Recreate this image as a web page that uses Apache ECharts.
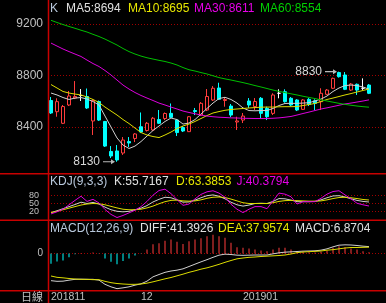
<!DOCTYPE html>
<html><head><meta charset="utf-8">
<script src="https://cdn.jsdelivr.net/npm/echarts@6/dist/echarts.min.js"></script>
<style>html,body{margin:0;padding:0;background:#000;}#c{width:386px;height:303px;}</style>
</head><body><div id="c"></div>
<script>
const categories = [
'2018-11-12','2018-11-13','2018-11-14','2018-11-15','2018-11-16','2018-11-19','2018-11-20','2018-11-21','2018-11-22','2018-11-23','2018-11-26','2018-11-27','2018-11-28','2018-11-29','2018-11-30',
'2018-12-03','2018-12-04','2018-12-05','2018-12-06','2018-12-07','2018-12-10','2018-12-11','2018-12-12','2018-12-13','2018-12-14','2018-12-17','2018-12-18','2018-12-19','2018-12-20','2018-12-21','2018-12-24','2018-12-27',
'2019-01-02','2019-01-03','2019-01-04','2019-01-07','2019-01-08','2019-01-09','2019-01-10','2019-01-11','2019-01-14','2019-01-15','2019-01-16','2019-01-17','2019-01-18','2019-01-21','2019-01-22','2019-01-23','2019-01-24','2019-01-25','2019-01-28','2019-01-29','2019-01-30','2019-01-31'];
const dateTickIndex = [0, 15, 32];
const dateTickText = ['201811', '12', '201901'];
const priceTicks = [8400, 8800, 9200];
const kdjTicks = [20, 50, 80];
const macdTicks = [0];

// [open, close, low, high]
const candles = [
[8606,8509,8501,8633],[8519,8597,8480,8623],[8429,8559,8423,8571],[8571,8641,8563,8680],[8625,8637,8617,8757],
[8645,8645,8602,8695],[8637,8548,8540,8699],[8447,8606,8338,8617],[8598,8454,8447,8606],[8443,8252,8245,8447],
[8210,8175,8159,8252],[8214,8144,8130,8260],[8198,8299,8183,8322],[8287,8276,8245,8322],[8311,8346,8283,8353],
[8402,8361,8353,8513],[8373,8429,8365,8439],[8377,8468,8369,8478],[8458,8429,8423,8532],[8466,8505,8454,8513],
[8506,8475,8470,8583],[8454,8357,8330,8462],[8396,8369,8361,8408],[8364,8480,8361,8485],[8528,8520,8493,8548],
[8493,8584,8485,8594],[8532,8637,8524,8695],[8610,8701,8602,8718],[8703,8615,8610,8744],[8606,8614,8558,8633],
[8563,8493,8478,8579],[8439,8447,8377,8480],[8454,8485,8431,8509],[8602,8571,8548,8625],[8559,8598,8532,8625],
[8623,8506,8470,8633],[8545,8480,8454,8558],[8506,8649,8493,8662],[8662,8662,8623,8693],[8674,8597,8589,8693],
[8623,8571,8563,8633],[8610,8532,8524,8617],[8537,8610,8532,8617],[8615,8576,8563,8625],[8604,8584,8532,8615],
[8597,8662,8532,8701],[8654,8687,8649,8695],[8701,8778,8695,8784],[8823,8791,8784,8830],[8804,8693,8687,8827],
[8687,8734,8680,8742],[8732,8687,8649,8738],[8701,8701,8687,8778],[8726,8662,8656,8734]];

const ma5 = [8664,8649,8629,8614,8625,8629,8617,8598,8571,8485,8400,8315,8260,8233,8252,8287,8330,8373,8408,8443,8470,8458,8423,8431,8458,8501,8544,8586,8621,8631,8614,8586,8548,8528,8526,8528,8528,8544,8567,8583,8584,8584,8586,8589,8602,8617,8641,8676,8703,8722,8726,8722,8711,8694];
const ma10 = [8730,8703,8676,8664,8656,8649,8633,8614,8590,8555,8524,8493,8458,8427,8392,8357,8338,8326,8318,8338,8361,8388,8408,8423,8443,8466,8489,8509,8520,8530,8536,8540,8544,8548,8551,8554,8555,8555,8557,8558,8558,8559,8567,8575,8583,8598,8614,8625,8637,8649,8660,8672,8684,8695];
const ma30 = [9052,9029,9006,8986,8967,8948,8920,8893,8870,8839,8804,8765,8726,8695,8668,8645,8625,8606,8586,8571,8555,8540,8524,8513,8503,8493,8485,8480,8476,8474,8471,8470,8468,8467,8466,8466,8466,8468,8471,8476,8482,8493,8505,8516,8528,8540,8549,8559,8569,8579,8586,8594,8602,8611];
const ma60 = [9229,9212,9196,9181,9167,9152,9138,9120,9103,9083,9060,9037,9010,8986,8967,8951,8938,8928,8918,8909,8897,8882,8862,8845,8835,8823,8812,8798,8784,8774,8765,8755,8745,8734,8722,8711,8699,8687,8677,8667,8658,8649,8639,8630,8621,8611,8602,8593,8584,8576,8569,8563,8558,8554];

const kLine = [15,22,30,38,46,55,50,54,48,36,26,20,18,20,26,32,42,56,66,74,72,64,55,56,63,72,80,83,78,68,55,45,40,44,50,51,50,58,69,68,63,57,57,57,58,64,72,79,80,75,68,62,58,55.7167];
const dLine = [15,20,26,32,38,44,48,50,49,45,39,33,28,26,26,28,33,40,49,57,62,63,60,59,60,64,70,74,75,73,67,60,53,50,50,50,50,53,58,61,62,61,60,59,59,60,64,69,73,74,72,69,65.5,63.3853];
const jLine = [10,18,28,45,62,78,58,66,52,27,8,-4,4,14,24,38,58,82,100,105,88,65,43,48,68,85,95,99,90,74,47,28,15,28,38,38,30,60,90,86,76,48,57,57,57,70,86,96,99,83,68,51,45,40.3794];

const diff = [-163,-167,-166,-160,-155,-154,-155,-155,-160,-185,-200,-211,-206,-200,-190,-182,-166,-140,-126,-113,-105,-100,-92,-78,-64,-50,-37,-23,-10,-4,-6,-10,-11,-10,-9,-9,-9,-2,4,8,10,12,14,15,16,20,28,40,50,52,51,48,44,41.3926];
const dea = [-135,-143,-146,-150,-153,-155,-155,-157,-157,-167,-175,-180,-183,-185,-185,-183,-178,-170,-161,-152,-144,-134,-124,-113,-104,-94,-86,-76,-65,-53,-42,-32,-27,-23,-21,-18,-16,-14,-12,-9,-3,5,9,11,13,15,20,23,28,33,36,36,37,37.9574];
const macd = [-62,-48,-42,-22,-5,3,0,6,-2,-30,-50,-64,-45,-30,-12,-2,24,55,62,77,84,70,57,73,84,92,104,112,104,94,64,38,34,30,24,18,14,24,34,34,24,14,10,8,6,10,16,34,44,38,30,24,14,6.8704];

const FONT = '"Liberation Sans", Arial, sans-serif';
const RED = '#ff3c3c', CYAN = '#00ffff', GRIDRED = '#a00000', SEP = '#c80000';
const C_WHITE = '#d0d0d0', C_YEL = '#dcdc00', C_MAG = '#dc00dc', C_GRN = '#00c000';
const C_LBL = '#b8c8dc', C_AX = '#c0c0c0';
const last = a => a[a.length - 1];

const chart = echarts.init(document.getElementById('c'), null, {renderer: 'canvas'});
const lowIdx = candles.reduce((b, c, i) => c[2] < candles[b][2] ? i : b, 0);
const highIdx = candles.reduce((b, c, i) => c[3] > candles[b][3] ? i : b, 0);

const plotW = 6 * categories.length;
const gridDefs = [
  {top: 14, height: 160},
  {top: 187.9, height: 31.2},
  {top: 220, height: 71}
];
const ranges = [[8035, 9278], [-10, 110], [-225, 201]];
const tickSets = [priceTicks, kdjTicks, macdTicks];
const labelFont = [12, 9, 10];
const labelMargin = [5, 9, 5];

// grids 0..2: data grids (width = candles); grids 3..5: full-width background grids
const grids = [], xAxes = [], yAxes = [];
gridDefs.forEach((g, p) => {
  grids.push({left: 48, width: plotW, top: g.top, height: g.height});
  const xa = {type: 'category', gridIndex: p, data: categories, boundaryGap: true, show: false};
  if (p === 2) {
    Object.assign(xa, {
      show: true,
      axisLine: {show: false}, axisTick: {show: false}, splitLine: {show: false},
      axisLabel: {
        interval: 0, color: C_AX, fontSize: 10.5, fontFamily: FONT, align: 'left',
        verticalAlign: 'middle', margin: 6, hideOverlap: false,
        formatter: (v, i) => { const k = dateTickIndex.indexOf(i); return k >= 0 ? dateTickText[k] : ''; }
      }
    });
  }
  xAxes.push(xa);
  yAxes.push({type: 'value', gridIndex: p, min: ranges[p][0], max: ranges[p][1], show: false});
});
gridDefs.forEach((g, p) => {
  const gi = grids.length;
  grids.push({left: 48, right: 0, top: g.top, height: g.height});
  xAxes.push({type: 'value', gridIndex: gi, min: 0, max: 1, show: false});
  // one axis per tick value so close labels are never dropped
  tickSets[p].forEach(t => {
    yAxes.push({
      type: 'value', gridIndex: gi, min: ranges[p][0], max: ranges[p][1], position: 'left', offset: 0,
      axisLine: {show: false},
      axisTick: {show: false, customValues: [t]},
      axisLabel: {
        customValues: [t], color: C_AX, fontSize: labelFont[p], fontFamily: FONT, margin: labelMargin[p],
        hideOverlap: false, showMinLabel: true, showMaxLabel: true,
        formatter: v => v === t ? String(v) : ''
      },
      splitLine: {show: true, lineStyle: {color: GRIDRED, width: 1, type: [1, 2]}}
    });
  });
});

const lineS = (name, data, color, panel) => ({
  name, type: 'line', data, xAxisIndex: panel, yAxisIndex: panel,
  symbol: 'none', lineStyle: {color, width: 1}, z: 3, clip: false
});

const candleData = candles.map(c => c[0] === c[1]
  ? {value: c, itemStyle: {color: '#fff', color0: '#fff', borderColor: '#fff', borderColor0: '#fff'}}
  : c);

const txt = (x, y, text, fill, size, align) => ({
  type: 'text', x, y, z: 20,
  style: {text, fill, font: (size || 12) + 'px ' + FONT, verticalAlign: 'middle', align: align || 'left'}
});
const hline = y => ({type: 'line', z: 15, shape: {x1: 0, y1: y, x2: 386, y2: y}, style: {stroke: SEP, lineWidth: 1.5}});

const ARROW = 'path://M0,-0.6 L8,-0.6 L8,-2.6 L12,0 L8,2.6 L8,0.6 L0,0.6 Z';

const option = {
  backgroundColor: '#000',
  animation: false,
  grid: grids, xAxis: xAxes, yAxis: yAxes,
  series: [
    {
      type: 'candlestick', data: candleData, xAxisIndex: 0, yAxisIndex: 0, barWidth: 4, z: 2,
      itemStyle: {color: '#000', color0: CYAN, borderColor: RED, borderColor0: CYAN, borderWidth: 1},
      markPoint: {
        symbol: ARROW, symbolSize: [12, 5], symbolOffset: [-8, 0], symbolKeepAspect: false,
        itemStyle: {color: '#b8b8b8'},
        label: {show: true, position: 'left', distance: 3, color: '#d8d8d8', fontSize: 12, fontFamily: FONT,
          formatter: p => String(p.value)},
        data: [
          {coord: [lowIdx, candles[lowIdx][2]], value: candles[lowIdx][2]},
          {coord: [highIdx, candles[highIdx][3]], value: candles[highIdx][3]}
        ]
      }
    },
    lineS('MA5', ma5, C_WHITE, 0),
    lineS('MA10', ma10, C_YEL, 0),
    lineS('MA30', ma30, C_MAG, 0),
    lineS('MA60', ma60, C_GRN, 0),
    lineS('K', kLine, C_WHITE, 1),
    lineS('D', dLine, C_YEL, 1),
    lineS('J', jLine, C_MAG, 1),
    {
      type: 'bar', data: macd, xAxisIndex: 2, yAxisIndex: 2, barWidth: 1, z: 2,
      itemStyle: {color: p => p.value >= 0 ? RED : CYAN}
    },
    lineS('DIFF', diff, C_WHITE, 2),
    lineS('DEA', dea, C_YEL, 2)
  ],
  graphic: [
    hline(173.7), hline(220.3), hline(290.7),
    {type: 'line', z: 15, shape: {x1: 48.5, y1: 0, x2: 48.5, y2: 303}, style: {stroke: SEP, lineWidth: 1.5}},
    txt(50, 8.3, 'K', C_LBL),
    txt(66, 8.3, 'MA5:' + last(ma5), '#e0e0e0'),
    txt(128, 8.3, 'MA10:' + last(ma10), '#e6e600'),
    txt(194, 8.3, 'MA30:' + last(ma30), '#e600e6'),
    txt(260, 8.3, 'MA60:' + last(ma60), '#00d000'),
    txt(50, 182, 'KDJ(9,3,3)', C_LBL),
    txt(114, 182, 'K:' + last(kLine).toFixed(4), '#e0e0e0'),
    txt(176, 182, 'D:' + last(dLine).toFixed(4), '#e6e600'),
    txt(236.5, 182, 'J:' + last(jLine).toFixed(4), '#e600e6'),
    txt(50, 228.7, 'MACD(12,26,9)', C_LBL),
    txt(140, 228.7, 'DIFF:' + last(diff).toFixed(4), '#e0e0e0'),
    txt(218, 228.7, 'DEA:' + last(dea).toFixed(4), '#e6e600'),
    txt(295, 228.7, 'MACD:' + last(macd).toFixed(4), '#e0e0e0'),
    {type: 'text', x: 43, y: 297, z: 20, style: {text: '日線', fill: C_AX, font: '11px "Noto Sans CJK TC", sans-serif', verticalAlign: 'middle', align: 'right'}}
  ]
};
chart.setOption(option);
</script>
</body></html>
